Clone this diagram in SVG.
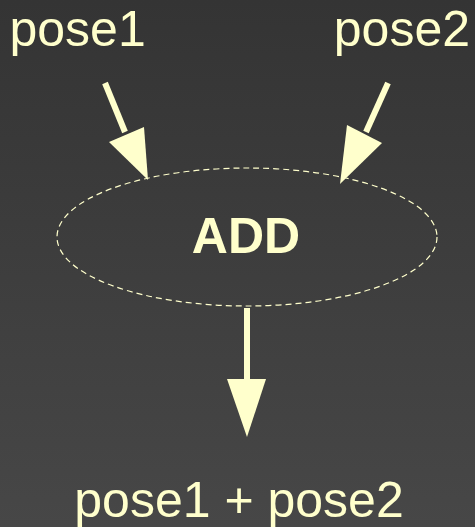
<svg xmlns="http://www.w3.org/2000/svg" width="475" height="527" viewBox="0 0 475 527">
<defs>
<linearGradient id="bg" x1="0" y1="0" x2="0" y2="1">
<stop offset="0" stop-color="#343434"/>
<stop offset="1" stop-color="#474747"/>
</linearGradient>
<style>
.lbl{font-family:"Liberation Sans",Arial,sans-serif;font-size:50px;fill:#ffffcc}
.op{font-family:"Liberation Sans",Arial,sans-serif;font-size:50px;font-weight:bold;fill:#ffffcc}
.shaft{stroke:#ffffcc;stroke-width:6;fill:none}
.head{fill:#ffffcc;stroke:none}
</style>
</defs>
<rect width="475" height="527" fill="url(#bg)"/>
<g id="pose1"><text class="lbl" x="9.5" y="46">pose1</text></g>
<g id="pose2"><text class="lbl" x="470" y="46" text-anchor="end">pose2</text></g>
<g id="add">
<ellipse cx="247" cy="237" rx="190" ry="69" fill="none" stroke="#ffffcc" stroke-width="1.2" stroke-dasharray="6,4"/>
<text class="op" x="246" y="253" text-anchor="middle">ADD</text>
</g>
<g id="result"><text class="lbl" x="239" y="517" text-anchor="middle">pose1 + pose2</text></g>
<g id="connectors">
<line class="shaft" x1="105" y1="83" x2="125" y2="132"/>
<polygon class="head" points="109,142 144,127 148,180"/>
<line class="shaft" x1="388" y1="83" x2="366" y2="132"/>
<polygon class="head" points="347,125 382,143 340,184"/>
<line class="shaft" x1="247" y1="308" x2="247" y2="382"/>
<polygon class="head" points="227,379 266,379 247,437"/>
</g>
</svg>
